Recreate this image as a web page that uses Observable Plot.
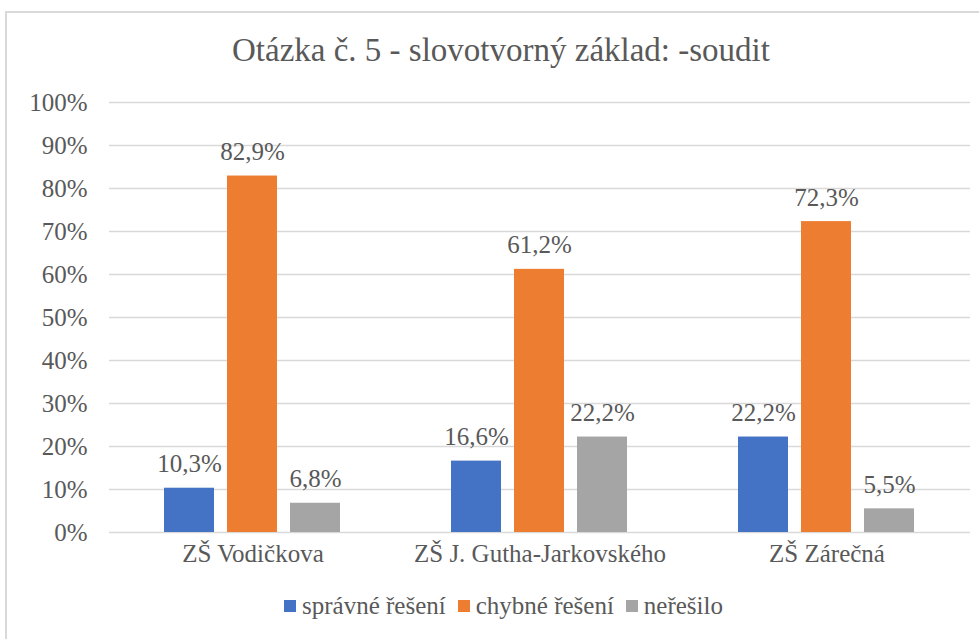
<!DOCTYPE html>
<html>
<head>
<meta charset="utf-8">
<script src="https://cdn.jsdelivr.net/npm/d3@7"></script>
<script src="https://cdn.jsdelivr.net/npm/@observablehq/plot@0.6"></script>
<style>
  body { margin: 0; }
  .serif { font-family: "Liberation Serif"; }
  #wrap { position: relative; width: 979px; height: 639px; overflow: hidden; background: #fff; color: #595959; }
  #frame { position: absolute; left: 5px; top: 11px; width: 1100px; height: 800px; border: 2px solid #d9d9d9; box-sizing: border-box; }
  #title { position: absolute; left: 6px; top: 30px; width: 990px; text-align: center; font-size: 33px; line-height: 40px; }
  #chart { position: absolute; left: 0; top: 85px; }
  #legend { position: absolute; left: 0; top: 592px; width: 979px; display: flex; justify-content: center; padding-left: 28px; box-sizing: border-box; font-size: 25px; line-height: 28px; }
  .item { display: flex; align-items: center; margin: 0 6px; }
  .sw { width: 12px; height: 12px; margin-right: 6px; }
</style>
</head>
<body>
<div id="wrap" class="serif">
<div id="frame"></div>
<div id="title" class="serif" style="font-family:'Liberation Serif'">Otázka č. 5 - slovotvorný základ: -soudit</div>
<div id="chart"></div>
<div id="legend" class="serif" style="font-family:'Liberation Serif'"></div>
</div>
<script>
const groups = ["ZŠ Vodičkova", "ZŠ J. Gutha-Jarkovského", "ZŠ Zárečná"];
const series = ["správné řešení", "chybné řešení", "neřešilo"];
const spravne = [10.3, 16.6, 22.2];
const chybne = [82.9, 61.2, 72.3];
const neresilo = [6.8, 22.2, 5.5];
const yTicks = [0, 10, 20, 30, 40, 50, 60, 70, 80, 90, 100];
const colors = ["#4472C4", "#ED7D31", "#A5A5A5"];

const valuesBySeries = [spravne, chybne, neresilo];
const data = [];
groups.forEach((g, gi) => {
  series.forEach((s, si) => {
    data.push({group: g, series: s, value: valuesBySeries[si][gi]});
  });
});
const fmt = d => d3.format(".1f")(d).replace(".", ",") + "%";

const chart = Plot.plot({
  width: 979,
  height: 490,
  marginLeft: 108,
  marginRight: 9,
  marginTop: 17,
  marginBottom: 43,
  style: {fontFamily: "Liberation Serif", fontSize: "25px", color: "#595959", background: "transparent"},
  fx: {domain: groups, padding: 0, axis: "bottom", label: null, tickSize: 0, tickPadding: 12},
  x: {domain: series, paddingInner: 0.206, paddingOuter: 0.88, axis: null},
  y: {domain: [0, 100], ticks: yTicks, tickFormat: d => d + "%", tickSize: 0, tickPadding: 22, label: null},
  color: {domain: series, range: colors},
  marks: [
    Plot.ruleY(yTicks, {stroke: "#d9d9d9", strokeWidth: 1.5}),
    Plot.barY(data, {fx: "group", x: "series", y: "value", fill: "series"}),
    Plot.text(data, {fx: "group", x: "series", y: "value", text: d => fmt(d.value), dy: -24, fill: "#595959", fontSize: 25})
  ]
});
document.getElementById("chart").appendChild(chart);

const legend = document.getElementById("legend");
series.forEach((s, i) => {
  const it = document.createElement("div");
  it.className = "item";
  const sw = document.createElement("div");
  sw.className = "sw";
  sw.style.background = colors[i];
  const t = document.createElement("span");
  t.textContent = s;
  t.style.fontFamily = "Liberation Serif";
  it.appendChild(sw);
  it.appendChild(t);
  legend.appendChild(it);
});
</script>
</body>
</html>
